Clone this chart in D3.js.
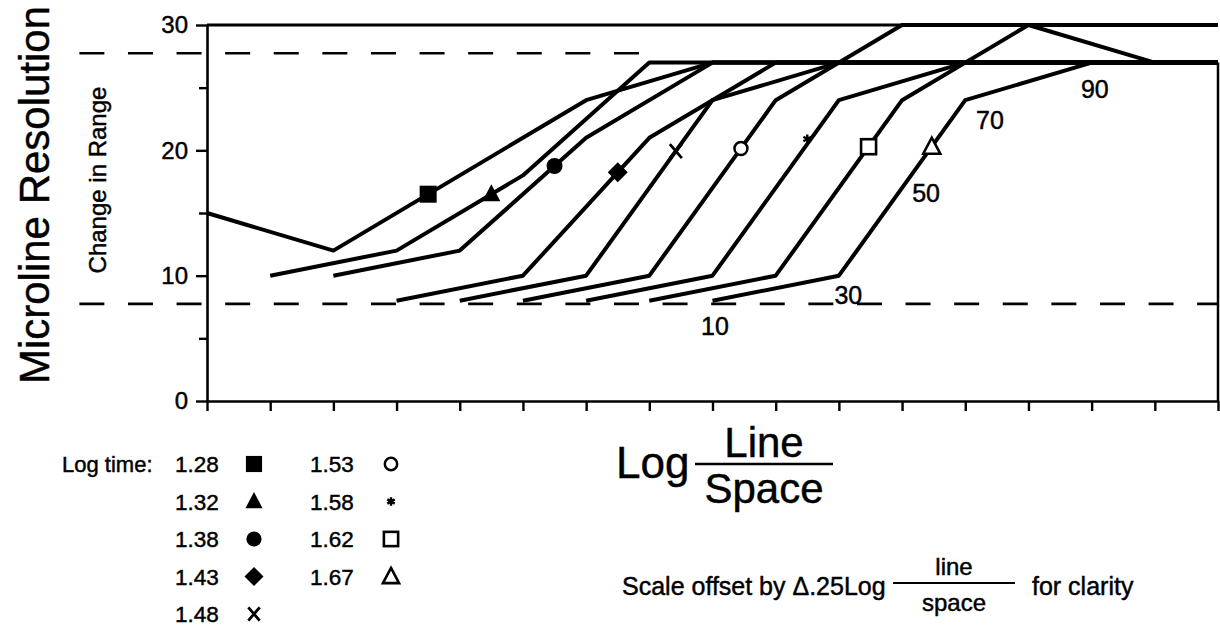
<!DOCTYPE html>
<html>
<head>
<meta charset="utf-8">
<script src="https://cdn.jsdelivr.net/npm/d3@7"></script>
<style>
  body { margin: 0; background: #fff; }
  svg { display: block; }
  text { font-family: "Liberation Sans", Arial, Helvetica, sans-serif; fill: #000; stroke: #000; stroke-width: 0.45px; }
</style>
</head>
<body>
<svg id="chart" width="1220" height="627"></svg>
<script>
// Log time of each run (legend order) and the marker used for it
const logTimes = ["1.28", "1.32", "1.38", "1.43", "1.48", "1.53", "1.58", "1.62", "1.67"];
const markerKinds = ["square", "triangle", "circle", "diamond", "cross", "ring", "star", "openSquare", "openTriangle"];

// Curve vertices: [offset log(line/space) position, microline resolution]
const curve128 = [[0, 15], [2, 12], [6, 24], [8, 27], [16, 27]];
const curve132 = [[1, 10], [3, 12], [5, 18], [7, 27], [16, 27]];
const curve138 = [[2, 10], [4, 12], [6, 21], [8, 27], [16, 27]];
const curve143 = [[3, 8], [5, 10], [7, 21], [9, 27], [16, 27]];
const curve148 = [[4, 8], [6, 10], [8, 24], [10, 27], [16, 27]];
const curve153 = [[5, 8], [7, 10], [9, 24], [11, 30], [16, 30]];
const curve158 = [[6, 8], [8, 10], [10, 24], [12, 27], [16, 27]];
const curve162 = [[7, 8], [9, 10], [11, 24], [13, 30], [15, 27], [16, 27]];
const curve167 = [[8, 8], [10, 10], [12, 24], [14, 27], [16, 27]];
const curves = [curve128, curve132, curve138, curve143, curve148, curve153, curve158, curve162, curve167];

// Where each curve carries its marker (x position along the offset scale)
const markerX = [3.5, 4.5, 5.5, 6.5, 7.42, 8.45, 9.5, 10.47, 11.47];

// Line/space values written along the last curve
const lineSpaceLabels = ["10", "30", "50", "70", "90"];
const lineSpaceAt = [[8.04, 6.0], [10.15, 8.45], [11.38, 16.6], [12.39, 22.4], [14.05, 24.9]];

// Limits of the change in range
const rangeLimits = [27.75, 7.75];

// Axis ticks
const yTicks = [0, 5, 10, 15, 20, 25, 30];
const yLabelTicks = [0, 10, 20, 30];
const xTicks = d3.range(0, 17);

const svg = d3.select("#chart");
const x = d3.scaleLinear().domain([0, 16]).range([207, 1218]);
const y = d3.scaleLinear().domain([0, 30]).range([401, 25]);

// Dashed range limits
svg.append("line")
  .attr("x1", x(-2.02)).attr("x2", x(6.85))
  .attr("y1", y(rangeLimits[0])).attr("y2", y(rangeLimits[0]))
  .attr("stroke", "#000").attr("stroke-width", 2.6).attr("stroke-dasharray", "25 23.6");
svg.append("line")
  .attr("x1", x(-2.02)).attr("x2", x(16))
  .attr("y1", y(rangeLimits[1])).attr("y2", y(rangeLimits[1]))
  .attr("stroke", "#000").attr("stroke-width", 2.6).attr("stroke-dasharray", "25 23.6");

// Frame: top at 30, right edge down from the 27 plateau
svg.append("line")
  .attr("x1", x(0)).attr("x2", x(16)).attr("y1", y(30)).attr("y2", y(30))
  .attr("stroke", "#000").attr("stroke-width", 3);
svg.append("line")
  .attr("x1", x(16)).attr("x2", x(16)).attr("y1", y(27)).attr("y2", y(0))
  .attr("stroke", "#000").attr("stroke-width", 2.5);

// Axes
const yAxis = svg.append("g")
  .attr("transform", `translate(${x(0)},0)`)
  .call(d3.axisLeft(y).tickValues(yTicks).tickSize(9).tickSizeOuter(0)
    .tickFormat(d => yLabelTicks.includes(d) ? d : ""));
const xAxis = svg.append("g")
  .attr("transform", `translate(0,${y(0)})`)
  .call(d3.axisBottom(x).tickValues(xTicks).tickSize(10).tickSizeOuter(0).tickFormat(""));
[yAxis, xAxis].forEach(g => {
  g.select(".domain").attr("stroke", "#000").attr("stroke-width", 2.6);
  g.selectAll(".tick line").attr("stroke", "#000").attr("stroke-width", 2.4);
});
yAxis.selectAll(".tick line").attr("x2", d => yLabelTicks.includes(d) ? -11 : -8);
yAxis.selectAll(".tick text")
  .attr("x", -19).attr("font-size", 24).attr("font-family", "Liberation Sans, Arial, sans-serif")
  .attr("fill", "#000").attr("stroke", "#000").attr("stroke-width", 0.5);

// Curves
const line = d3.line().x(d => x(d[0])).y(d => y(d[1]));
svg.append("g").selectAll("path").data(curves).join("path")
  .attr("d", line).attr("fill", "none").attr("stroke", "#000")
  .attr("stroke-width", 4).attr("stroke-linejoin", "round").attr("stroke-linecap", "butt");

// Marker shapes
function drawMarker(g, kind, cx, cy, s) {
  const k = s || 1;
  if (kind === "square") {
    g.append("rect").attr("x", cx - 8.5 * k).attr("y", cy - 8.5 * k).attr("width", 17 * k).attr("height", 17 * k).attr("fill", "#000");
  } else if (kind === "triangle") {
    g.append("path").attr("d", `M${cx},${cy - 10 * k}L${cx + 9 * k},${cy + 7 * k}L${cx - 9 * k},${cy + 7 * k}Z`).attr("fill", "#000");
  } else if (kind === "circle") {
    g.append("circle").attr("cx", cx).attr("cy", cy).attr("r", 8 * k).attr("fill", "#000");
  } else if (kind === "diamond") {
    g.append("path").attr("d", `M${cx},${cy - 10 * k}L${cx + 10 * k},${cy}L${cx},${cy + 10 * k}L${cx - 10 * k},${cy}Z`).attr("fill", "#000");
  } else if (kind === "cross") {
    g.append("path").attr("d", `M${cx - 6 * k},${cy - 7 * k}L${cx + 6 * k},${cy + 7 * k}M${cx + 6 * k},${cy - 7 * k}L${cx - 6 * k},${cy + 7 * k}`)
      .attr("stroke", "#000").attr("stroke-width", 2.8).attr("fill", "none");
  } else if (kind === "ring") {
    g.append("circle").attr("cx", cx).attr("cy", cy).attr("r", 6.5 * k).attr("fill", "#fff").attr("stroke", "#000").attr("stroke-width", 2.5);
  } else if (kind === "star") {
    const r = 4.5 * k;
    const p = [0, 60, 120].map(a => {
      const t = a * Math.PI / 180;
      return `M${cx - r * Math.sin(t)},${cy - r * Math.cos(t)}L${cx + r * Math.sin(t)},${cy + r * Math.cos(t)}`;
    }).join("");
    g.append("path").attr("d", p).attr("stroke", "#000").attr("stroke-width", 2.4).attr("fill", "none");
  } else if (kind === "openSquare") {
    g.append("rect").attr("x", cx - 7.5 * k).attr("y", cy - 7.5 * k).attr("width", 15 * k).attr("height", 15 * k)
      .attr("fill", "#fff").attr("stroke", "#000").attr("stroke-width", 2.6);
  } else if (kind === "openTriangle") {
    g.append("path").attr("d", `M${cx},${cy - 9 * k}L${cx + 8.5 * k},${cy + 7 * k}L${cx - 8.5 * k},${cy + 7 * k}Z`)
      .attr("fill", "#fff").attr("stroke", "#000").attr("stroke-width", 2.6).attr("stroke-linejoin", "miter");
  }
}

// Position of a marker along its polyline
function valueAt(pts, xv) {
  for (let i = 1; i < pts.length; i++) {
    if (xv <= pts[i][0]) {
      const [x0, y0] = pts[i - 1], [x1, y1] = pts[i];
      return y0 + (y1 - y0) * (xv - x0) / (x1 - x0);
    }
  }
  return pts[pts.length - 1][1];
}

const markerLayer = svg.append("g");
curves.forEach((pts, i) => {
  const yv = valueAt(pts, markerX[i]);
  // the asterisk sits just above its line
  const lift = markerKinds[i] === "star" ? -5 : 0;
  drawMarker(markerLayer, markerKinds[i], x(markerX[i]), y(yv) + lift, 1);
});

// Line/space values along the last curve
svg.append("g").selectAll("text").data(lineSpaceLabels).join("text")
  .attr("x", (d, i) => x(lineSpaceAt[i][0]))
  .attr("y", (d, i) => y(lineSpaceAt[i][1]))
  .attr("dy", "0.36em").attr("text-anchor", "middle").attr("font-size", 25)
  .text(d => d);

// Y axis titles
svg.append("text")
  .attr("transform", "translate(49,195) rotate(-90)")
  .attr("text-anchor", "middle").attr("font-size", 42)
  .text("Microline Resolution");
svg.append("text")
  .attr("transform", "translate(106,180) rotate(-90)")
  .attr("text-anchor", "middle").attr("font-size", 24)
  .text("Change in Range");

// Legend
const legend = svg.append("g");
legend.append("text").attr("x", 62).attr("y", 472).attr("font-size", 22).text("Log time:");
logTimes.forEach((t, i) => {
  const col = i < 5 ? 0 : 1;
  const row = i < 5 ? i : i - 5;
  const tx = col === 0 ? 175 : 310;
  const mx = col === 0 ? 254 : 391;
  const by = 472 + row * 37.5;
  legend.append("text").attr("x", tx).attr("y", by).attr("font-size", 22.5).text(t);
  drawMarker(legend, markerKinds[i], mx, by - 8, 0.95);
});

// X axis title: Log (Line / Space)
const xt = svg.append("g");
xt.append("text").attr("x", 616).attr("y", 478).attr("font-size", 44).text("Log");
xt.append("line").attr("x1", 695).attr("x2", 833).attr("y1", 464).attr("y2", 464).attr("stroke", "#000").attr("stroke-width", 2.5);
xt.append("text").attr("x", 764).attr("y", 457).attr("text-anchor", "middle").attr("font-size", 42).text("Line");
xt.append("text").attr("x", 764).attr("y", 503).attr("text-anchor", "middle").attr("font-size", 42).text("Space");

// Note on the offset scale
const note = svg.append("g");
note.append("text").attr("x", 622).attr("y", 595).attr("font-size", 25).text("Scale offset by \u0394.25Log");
note.append("line").attr("x1", 893).attr("x2", 1015).attr("y1", 583).attr("y2", 583).attr("stroke", "#000").attr("stroke-width", 2.2);
note.append("text").attr("x", 954).attr("y", 575).attr("text-anchor", "middle").attr("font-size", 24).text("line");
note.append("text").attr("x", 954).attr("y", 611).attr("text-anchor", "middle").attr("font-size", 24).text("space");
note.append("text").attr("x", 1032).attr("y", 595).attr("font-size", 25).text("for clarity");
</script>
</body>
</html>
